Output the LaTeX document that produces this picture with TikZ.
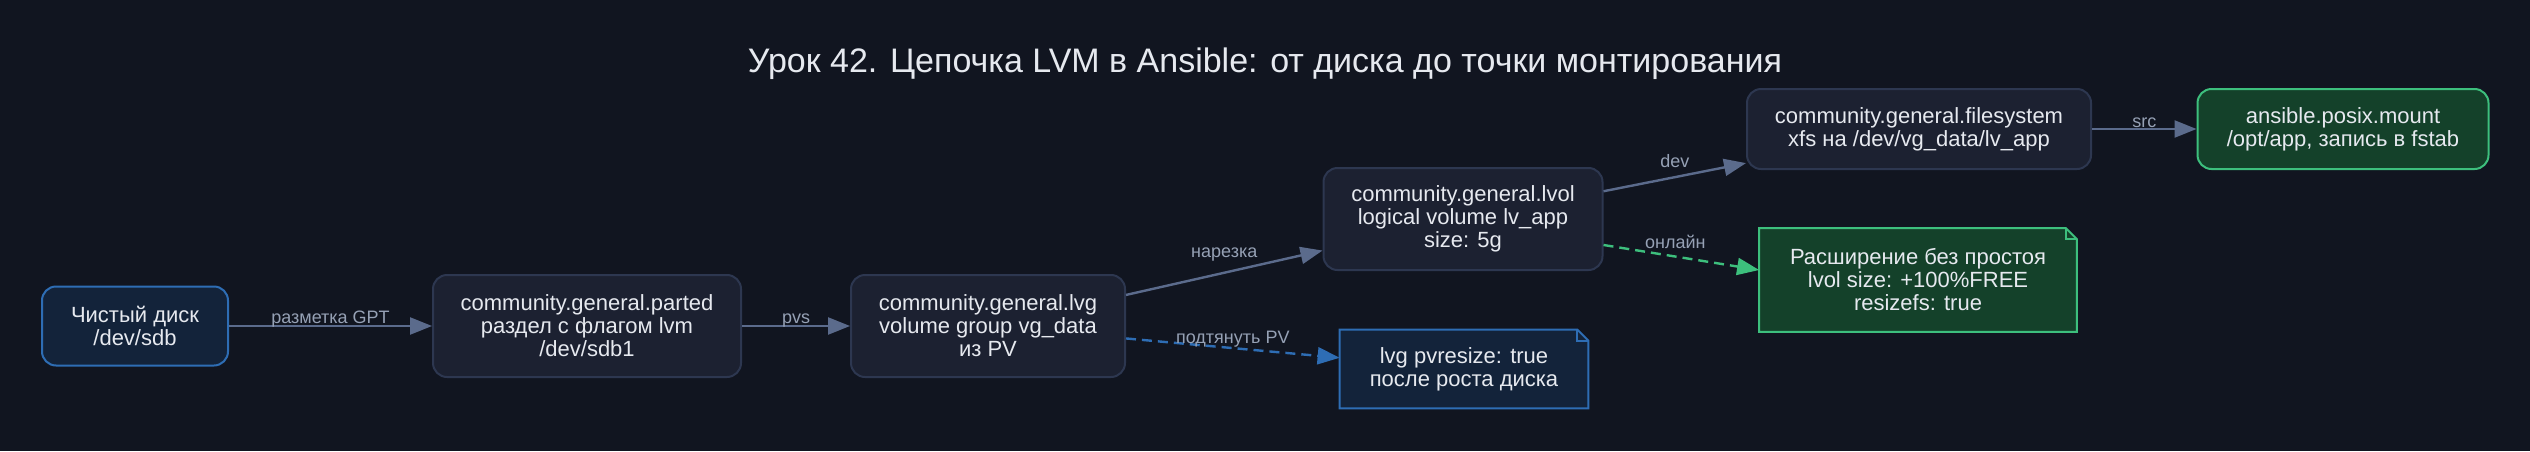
\documentclass[tikz,border=0pt]{standalone}
\usepackage{fontspec}
\setmainfont{Liberation Sans}
\usepackage{xcolor}
\usetikzlibrary{arrows.meta}
\definecolor{lvmbg}{HTML}{111520}
\definecolor{lvmtext}{HTML}{E6E9EF}
\definecolor{lbltext}{HTML}{96A1B5}
\definecolor{modfill}{HTML}{1C2131}
\definecolor{modline}{HTML}{2D3750}
\definecolor{edgegray}{HTML}{5B6B8C}
\definecolor{diskblue}{HTML}{2E6DB4}
\definecolor{diskfill}{HTML}{13233A}
\definecolor{mountgreen}{HTML}{3DBF7D}
\definecolor{mountfill}{HTML}{14412A}

\begin{document}
\begin{tikzpicture}[
    x=0.5pt, y=0.5pt,
    box/.style={draw=#1, rounded corners=7pt, line width=1pt, align=center,
        text=lvmtext, font=\fontsize{11}{11.5}\selectfont, inner sep=2pt},
    box/.default=modline,
    notebox/.style={fill=#1, align=center, text=lvmtext,
        font=\fontsize{11}{11.5}\selectfont, inner sep=2pt},
    flow/.style={draw=#1, line width=1.2pt, -{Triangle[length=11pt, width=8.5pt]}},
    flow/.default=edgegray,
    hint/.style={flow=#1, dash pattern=on 5pt off 3pt},
    lbl/.style={anchor=base, text=lbltext, font=\fontsize{9}{10}\selectfont, inner sep=0pt}
]

    % ==========================================
    % CANVAS
    % ==========================================
    \path[use as bounding box, fill=lvmbg] (0,0) rectangle (2530,451);

    % ==========================================
    % COORDINATES
    % ==========================================
    \coordinate (c_title) at (1265, 387);

    \coordinate (c_disk)   at (135, 125);
    \coordinate (c_parted) at (587, 125);
    \coordinate (c_lvg)    at (988, 125);
    \coordinate (c_lvol)   at (1463, 232);
    \coordinate (c_fs)     at (1919, 322);
    \coordinate (c_mount)  at (2343, 322);

    % Notes
    \coordinate (c_pvnote)   at (1464, 82);
    \coordinate (c_freenote) at (1918, 171);

    % ==========================================
    % TITLE
    % ==========================================
    \node[text=lvmtext, font=\fontsize{17}{20}\selectfont] (title) at (c_title)
        {Урок 42. Цепочка LVM в Ansible: от диска до точки монтирования};

    % ==========================================
    % CHAIN NODES
    % ==========================================
    \node[box=diskblue, fill=diskfill, minimum width=93pt, minimum height=39.5pt] (disk) at (c_disk)
        {Чистый диск\\/dev/sdb};
    \node[box, fill=modfill, minimum width=154pt, minimum height=51pt] (parted) at (c_parted)
        {community.general.parted\\раздел с флагом lvm\\/dev/sdb1};
    \node[box, fill=modfill, minimum width=137pt, minimum height=51pt] (lvg) at (c_lvg)
        {community.general.lvg\\volume group vg\_data\\из PV};
    \node[box, fill=modfill, minimum width=139.5pt, minimum height=51pt] (lvol) at (c_lvol)
        {community.general.lvol\\logical volume lv\_app\\size: 5g};
    \node[box, fill=modfill, minimum width=172pt, minimum height=40pt] (fs) at (c_fs)
        {community.general.filesystem\\xfs на /dev/vg\_data/lv\_app};
    \node[box=mountgreen, fill=mountfill, minimum width=145.5pt, minimum height=40pt] (mount) at (c_mount)
        {ansible.posix.mount\\/opt/app, запись в fstab};

    % ==========================================
    % NOTES (folded corner)
    % ==========================================
    \node[notebox=diskfill, minimum width=124pt, minimum height=39pt] (pvnote) at (c_pvnote)
        {lvg pvresize: true\\после роста диска};
    \node[notebox=mountfill, minimum width=158.5pt, minimum height=51.5pt] (freenote) at (c_freenote)
        {Расширение без простоя\\lvol size: +100\%FREE\\resizefs: true};

    % Blue note outline
    \fill[lvmbg] (pvnote.north east) -- ([xshift=-5.5pt]pvnote.north east)
        -- ([yshift=-5.5pt]pvnote.north east) -- cycle;
    \draw[diskblue, line width=1pt] (pvnote.north west) -- ([xshift=-5.5pt]pvnote.north east)
        -- ([yshift=-5.5pt]pvnote.north east) -- (pvnote.south east) -- (pvnote.south west) -- cycle;
    \draw[diskblue, line width=1pt] ([xshift=-5.5pt]pvnote.north east)
        -- ([xshift=-5.5pt, yshift=-5.5pt]pvnote.north east) -- ([yshift=-5.5pt]pvnote.north east);

    % Green note outline
    \fill[lvmbg] (freenote.north east) -- ([xshift=-5.5pt]freenote.north east)
        -- ([yshift=-5.5pt]freenote.north east) -- cycle;
    \draw[mountgreen, line width=1pt] (freenote.north west) -- ([xshift=-5.5pt]freenote.north east)
        -- ([yshift=-5.5pt]freenote.north east) -- (freenote.south east) -- (freenote.south west) -- cycle;
    \draw[mountgreen, line width=1pt] ([xshift=-5.5pt]freenote.north east)
        -- ([xshift=-5.5pt, yshift=-5.5pt]freenote.north east) -- ([yshift=-5.5pt]freenote.north east);

    % ==========================================
    % CONNECTORS
    % ==========================================
    \draw[flow] (disk) -- (parted)
        node[lbl, midway, yshift=1.5pt] {разметка GPT};
    \draw[flow] (parted) -- (lvg)
        node[lbl, midway, yshift=1.5pt] {pvs};
    \draw[flow] (lvg) -- (lvol)
        node[lbl, midway, yshift=7.5pt] {нарезка};
    \draw[flow] (lvol) -- (fs)
        node[lbl, midway, yshift=5pt] {dev};
    \draw[flow] (fs) -- (mount)
        node[lbl, midway, yshift=1pt] {src};

    % Dashed hints into the notes
    \draw[hint=diskblue] (lvg) -- (pvnote)
        node[lbl, midway, yshift=2.5pt] {подтянуть PV};
    \draw[hint=mountgreen] ([yshift=-13pt]lvol.east) -- ([yshift=5pt]freenote.west)
        node[lbl, midway, xshift=-3pt, yshift=4.5pt] {онлайн};

\end{tikzpicture}
\end{document}
